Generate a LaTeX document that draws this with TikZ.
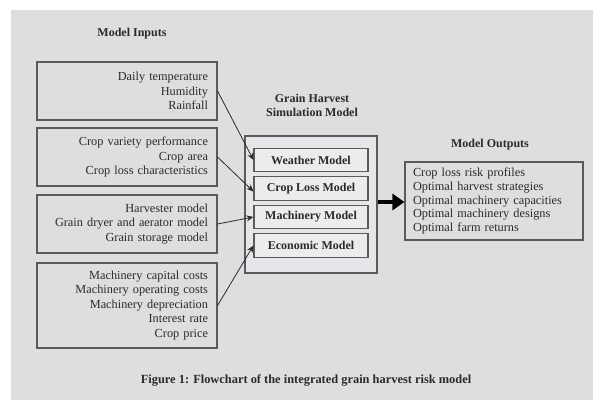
\documentclass[tikz,border=0pt]{standalone}
\usepackage{fontspec}
\setmainfont{Liberation Serif}
\usetikzlibrary{arrows.meta, positioning, calc}
\usepackage{xcolor}
\definecolor{cPaper}{HTML}{DEDEDE}
\definecolor{cLine}{HTML}{5A5A5A}
\definecolor{cInk}{HTML}{2A2A2A}
\definecolor{cSim}{HTML}{E6E6EA}
\definecolor{cSub}{HTML}{ECECEC}
\tikzset{
  inbox/.style={
    draw=cLine, line width=1.1pt,
    text width=162pt, align=right, inner xsep=9pt,
    minimum width=180pt, minimum height=#1,
    font=\fontsize{12.3}{14.5}\selectfont, text=cInk,
  },
  inbox/.default=58pt,
  submodel/.style={
    draw=cLine, fill=cSub, line width=1.1pt,
    minimum width=114pt, minimum height=23.5pt, inner sep=0pt,
    font=\fontsize{12}{14}\selectfont\bfseries, text=cInk,
  },
  heading/.style={font=\fontsize{12}{14}\selectfont\bfseries, text=cInk, align=center},
  feed/.style={-{Stealth[length=7pt, width=6pt]}, line width=0.8pt, color=cInk},
}

\begin{document}
\begin{tikzpicture}[x=1pt, y=-1pt]
  \useasboundingbox (0,0) rectangle (593,400);
  \fill[cPaper] (11,10) rectangle (593,400);

  % Inputs
  \node[heading] (intitle) at (132,34) {Model Inputs};

  \node[inbox] (in1) at (127,91) {Daily temperature\\Humidity\\Rainfall};
  \node[inbox] (in2) at (127,157) {Crop variety performance\\Crop area\\Crop loss characteristics};
  \node[inbox] (in3) at (127,224) {Harvester model\\Grain dryer and aerator model\\Grain storage model};
  \node[inbox=85pt] (in4) at (127,305.5) {Machinery capital costs\\Machinery operating costs\\Machinery depreciation\\Interest rate\\Crop price};

  % Simulation model
  \node[heading] (simtitle) at (312,105) {Grain Harvest\\Simulation Model};
  \node[draw=cLine, fill=cSim, line width=1.1pt, minimum width=132pt, minimum height=137pt]
    (sim) at (311,204.5) {};

  \node[submodel] (weather) at (311,160) {Weather Model};
  \node[submodel] (croploss) at (311,188.5) {Crop Loss Model};
  \node[submodel] (machinery) at (311,217) {Machinery Model};
  \node[submodel] (economic) at (311,245.5) {Economic Model};

  \draw[feed] (in1.east) -- (weather.west);
  \draw[feed] (in2.east) -- ($(croploss.west)+(0,3)$);
  \draw[feed] (in3.east) -- (machinery.west);
  \draw[feed] (in4.east) -- (economic.west);

  % Outputs
  \node[heading] (outtitle) at (490,145) {Model Outputs};
  \node[draw=cLine, line width=1.1pt, text width=162pt, align=left, inner xsep=8pt,
        minimum width=178pt, minimum height=78pt,
        font=\fontsize{12.3}{13.6}\selectfont, text=cInk]
    (out) at (494,201) {Crop loss risk profiles\\Optimal harvest strategies\\Optimal machinery capacities\\Optimal machinery designs\\Optimal farm returns};

  \draw[-{Triangle[length=12pt, width=16pt]}, line width=4pt, color=black]
    (sim.east |- 0,202) -- (out.west |- 0,202);

  \node[font=\fontsize{12.4}{14}\selectfont\bfseries, text=cInk] (caption) at (306,380)
    {Figure 1: Flowchart of the integrated grain harvest risk model};

\end{tikzpicture}
\end{document}
